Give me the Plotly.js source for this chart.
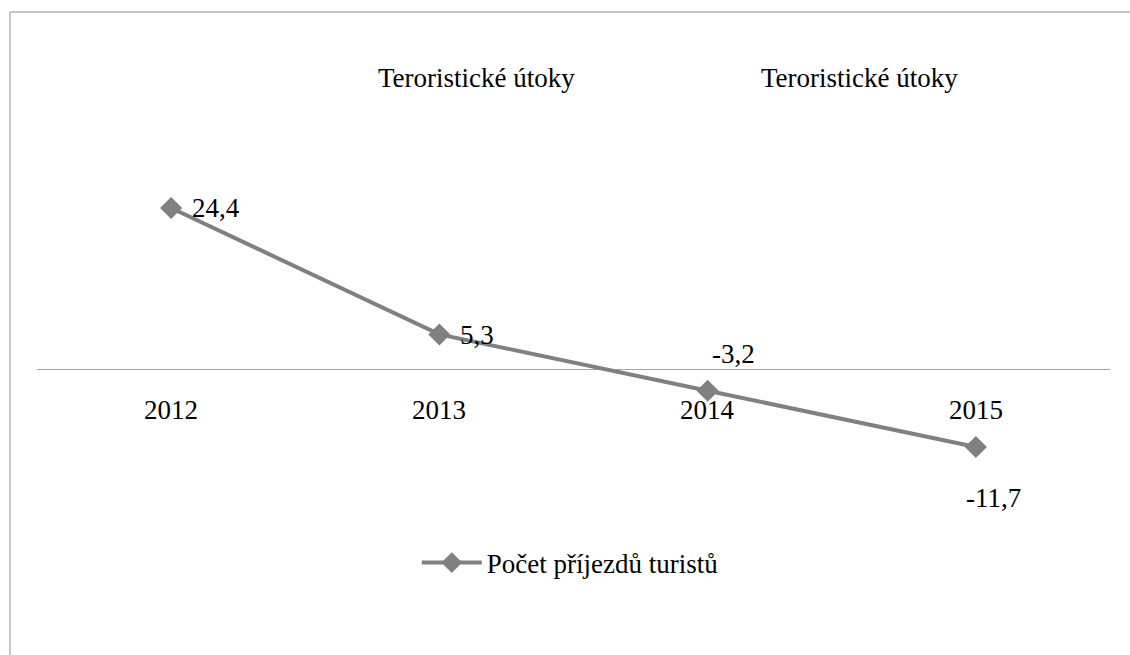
<!DOCTYPE html>
<html>
<head>
<meta charset="utf-8">
<script src="https://cdn.plot.ly/plotly-3.0.1.min.js"></script>
<style>html,body{margin:0;padding:0;background:#fff}#chart{width:1130px;height:655px}</style>
</head>
<body>
<div id="chart"></div>
<script>
const years = ["2012", "2013", "2014", "2015"];
const arrivals = [24.4, 5.3, -3.2, -11.7];
const valueLabels = ["24,4", "5,3", "-3,2", "-11,7"];
const seriesName = "Počet příjezdů turistů";
const eventLabels = ["Teroristické útoky", "Teroristické útoky"];

const FONT = "Liberation Serif";
const FS = 27;
const labelPlacement = [
  {xanchor: "left", yanchor: "middle", xshift: 19, yshift: 0},
  {xanchor: "left", yanchor: "middle", xshift: 19, yshift: -1},
  {xanchor: "center", yanchor: "middle", xshift: 26, yshift: 37},
  {xanchor: "center", yanchor: "middle", xshift: 18, yshift: -51}
];

const annotations = [];
years.forEach((y, i) => {
  const p = labelPlacement[i];
  annotations.push({x: i, y: arrivals[i], xref: "x", yref: "y", text: valueLabels[i], showarrow: false,
    xanchor: p.xanchor, yanchor: p.yanchor, xshift: p.xshift, yshift: p.yshift,
    font: {family: FONT, size: FS, color: "#000"}});
  annotations.push({x: i, y: 0, xref: "x", yref: "y", text: y, showarrow: false,
    xanchor: "center", yanchor: "middle", yshift: -40, font: {family: FONT, size: FS, color: "#000"}});
});
const eventPos = [0.41, 0.767];
eventLabels.forEach((t, i) => {
  annotations.push({x: eventPos[i], y: 1.055, xref: "paper", yref: "paper", text: t, showarrow: false,
    xanchor: "center", yanchor: "middle", font: {family: FONT, size: FS, color: "#000"}});
});

const trace = {
  x: years, y: arrivals, name: seriesName, type: "scatter", mode: "lines+markers",
  line: {color: "#808080", width: 4},
  marker: {symbol: "diamond", size: 17, color: "#808080"},
  cliponaxis: false
};

const layout = {
  width: 1130, height: 655,
  margin: {l: 37, r: 20, t: 100, b: 155},
  paper_bgcolor: "#fff", plot_bgcolor: "#fff",
  font: {family: FONT, size: FS, color: "#000"},
  showlegend: true,
  legend: {orientation: "h", x: 0.497, xanchor: "center", y: -0.1575, yanchor: "middle",
    itemwidth: 60, font: {family: FONT, size: FS, color: "#000"}},
  xaxis: {type: "category", showticklabels: false, showgrid: false, zeroline: false, showline: false, ticks: "", range: [-0.5, 3.5], fixedrange: true},
  yaxis: {range: [-19.71, 40.71], showticklabels: false, showgrid: false, zeroline: true, zerolinecolor: "#a6a6a6", zerolinewidth: 1, showline: false, ticks: ""},
  annotations: annotations,
  shapes: [
    {type: "line", xref: "paper", yref: "paper", x0: -0.0252, x1: -0.0252, y0: 1.22, y1: -0.4, line: {color: "#8c8c8c", width: 1}},
    {type: "line", xref: "paper", yref: "paper", x0: -0.0252, x1: 1.03, y0: 1.22, y1: 1.22, line: {color: "#8c8c8c", width: 1}}
  ]
};

Plotly.newPlot("chart", [trace], layout, {displayModeBar: false, staticPlot: true});
</script>
</body>
</html>
